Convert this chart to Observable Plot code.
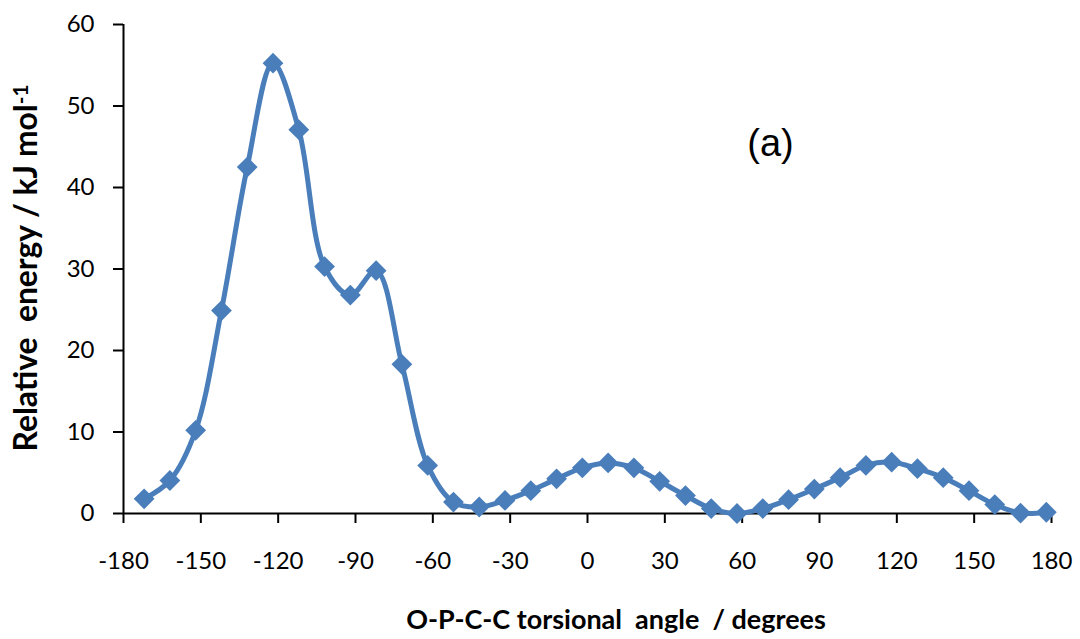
<!DOCTYPE html>
<html><head><meta charset="utf-8">
<script src="https://cdn.jsdelivr.net/npm/d3@7"></script>
<script src="https://cdn.jsdelivr.net/npm/@observablehq/plot@0.6"></script>
<style>html,body{margin:0;padding:0;background:#fff} svg{display:block}</style>
</head><body><div id="chart"></div>
<script>
// Torsional angles (degrees) and relative energies (kJ/mol)
const angles = [-172,-162,-152,-142,-132,-122,-112,-102,-92,-82,-72,-62,-52,-42,-32,-22,-12,-2,8,18,28,38,48,58,68,78,88,98,108,118,128,138,148,158,168,178];
const energies = [1.8,4.05,10.2,24.9,42.5,55.25,47.1,30.3,26.8,29.8,18.3,5.9,1.4,0.8,1.6,2.8,4.25,5.6,6.2,5.6,3.95,2.2,0.6,0.0,0.6,1.7,3.0,4.4,5.9,6.3,5.5,4.4,2.8,1.1,0.05,0.15];
const xTicks = [-180,-150,-120,-90,-60,-30,0,30,60,90,120,150,180];
const yTicks = [0,10,20,30,40,50,60];
const xTitle = "O-P-C-C torsional  angle  / degrees";
const yTitle = "Relative  energy / kJ mol";
const yTitleSup = "-1";
const annotations = [{label:"(a)", x:71, y:43.9}];

const color = "#4a7ebb";
const data = angles.map((a,i)=>({angle:a, energy:energies[i]}));

const plot = Plot.plot({
  width:1080, height:639,
  marginLeft:123, marginRight:29, marginTop:24, marginBottom:126,
  x:{domain:[-180,180]},
  y:{domain:[0,60]},
  style:{fontFamily:"Lato, sans-serif", fontSize:"24px", color:"#000", background:"#fff"},
  marks:[
    Plot.axisX({ticks:xTicks, tickSize:10, tickPadding:28, label:null, tickFormat:d=>String(d), strokeWidth:2}),
    Plot.axisY({ticks:yTicks, tickSize:10, tickPadding:19, label:null, tickFormat:d=>String(d), strokeWidth:2}),
    Plot.ruleY([0], {stroke:"#000", strokeWidth:2}),
    Plot.ruleX([-180], {stroke:"#000", strokeWidth:2}),
    Plot.line(data, {x:"angle", y:"energy", curve:"catmull-rom", stroke:color, strokeWidth:5}),
    Plot.dot(data, {x:"angle", y:"energy", symbol:"square", r:8.3, rotate:45, fill:color, stroke:"none"}),
    Plot.text(annotations, {x:"x", y:"y", text:"label", fontSize:38, fontFamily:"Liberation Sans, Arial, sans-serif", lineAnchor:"bottom", fill:"#000"})
  ]
});
document.getElementById("chart").appendChild(plot);

const svg = d3.select(plot);
function fit(sel, target, base) {
  const w = sel.node().getComputedTextLength();
  if (w > 0) sel.attr("font-size", base * target / w);
}
const xt = svg.append("text")
  .attr("x", 616).attr("y", 629)
  .attr("text-anchor","middle")
  .style("white-space","pre")
  .attr("font-family","Lato, sans-serif").attr("font-weight","bold").attr("font-size",25)
  .attr("fill","#000")
  .text(xTitle);
fit(xt, 420, 25);
const yt = svg.append("text")
  .attr("transform","translate(37,268) rotate(-90)")
  .attr("text-anchor","middle")
  .style("white-space","pre")
  .attr("font-family","Lato, sans-serif").attr("font-weight","bold").attr("font-size",26)
  .attr("fill","#000");
yt.append("tspan").text(yTitle);
yt.append("tspan").attr("dy","-0.45em").attr("font-size","0.65em").text(yTitleSup);
fit(yt, 367, 26);
</script>
</body></html>
